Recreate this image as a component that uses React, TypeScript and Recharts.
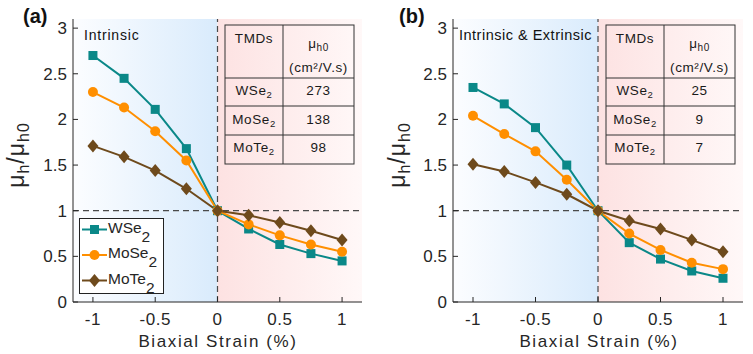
import React from 'react';
import { LineChart, Line, XAxis, YAxis, ReferenceArea, ReferenceLine } from 'recharts';

// ---- data ----
const strain = [-1, -0.75, -0.5, -0.25, 0, 0.25, 0.5, 0.75, 1];
const intrinsicWSe2 = [2.70, 2.45, 2.11, 1.68, 1.0, 0.80, 0.63, 0.53, 0.45];
const intrinsicMoSe2 = [2.30, 2.13, 1.87, 1.55, 1.0, 0.85, 0.73, 0.63, 0.55];
const intrinsicMoTe2 = [1.71, 1.59, 1.44, 1.24, 1.0, 0.95, 0.87, 0.78, 0.68];
const extrinsicWSe2 = [2.35, 2.17, 1.91, 1.50, 1.0, 0.65, 0.47, 0.34, 0.26];
const extrinsicMoSe2 = [2.04, 1.84, 1.65, 1.34, 1.0, 0.75, 0.57, 0.43, 0.36];
const extrinsicMoTe2 = [1.51, 1.43, 1.31, 1.18, 1.0, 0.89, 0.80, 0.68, 0.55];

const materialBase = ['WSe', 'MoSe', 'MoTe']; // each followed by subscript 2
const intrinsicMu0 = ['273', '138', '98'];
const extrinsicMu0 = ['25', '9', '7'];
const xTicks = [-1, -0.5, 0, 0.5, 1];
const yTicks = [0, 0.5, 1, 1.5, 2, 2.5, 3];
const xDomain: [number, number] = [-1.16, 1.16];
const yDomain: [number, number] = [0, 3.1];

const COLORS = ['#0a8888', '#ff8f00', '#6e4a1c'];
type Shape = 'square' | 'circle' | 'diamond';
const SHAPES: Shape[] = ['square', 'circle', 'diamond'];

const FONT = '"Liberation Sans", Arial, Helvetica, sans-serif';
const TXT = '#262626';

function markerEl(shape: Shape, color: string, cx: number, cy: number, key?: string) {
  if (shape === 'square')
    return <rect key={key} x={cx - 4.5} y={cy - 4.5} width={9} height={9} fill={color} />;
  if (shape === 'circle') return <circle key={key} cx={cx} cy={cy} r={5} fill={color} />;
  return (
    <polygon
      key={key}
      points={`${cx},${cy - 6.5} ${cx + 5.5},${cy} ${cx},${cy + 6.5} ${cx - 5.5},${cy}`}
      fill={color}
    />
  );
}

function makeDot(shape: Shape, color: string) {
  return (p: any) => {
    const k = `${shape}-${p.index}`;
    if (typeof p.cx !== 'number' || typeof p.cy !== 'number') return <g key={k} />;
    return markerEl(shape, color, p.cx, p.cy, k);
  };
}

type PanelProps = {
  id: string;
  width: number;
  marginLeft: number;
  marginRight: number;
  series: number[][];
  panelLabel: string;
  note: string;
  noteX: number;
  noteSize: number;
  noteSpacing: number;
  mu0: string[];
  tableLeft: number;
  yLabelX: number;
  xLabelX: number;
  showLegend: boolean;
};

function Panel(props: PanelProps) {
  const { id, width, marginLeft, marginRight, series, panelLabel, note, noteX, noteSize, noteSpacing, mu0, tableLeft, yLabelX, xLabelX, showLegend } = props;
  const rows = strain.map((x, i) => ({ x, s0: series[0][i], s1: series[1][i], s2: series[2][i] }));
  const tl = tableLeft;
  const tc = tl + 58;
  const tr = tl + 129;
  const rowBase = [95, 123.5, 152];

  return (
    <div style={{ position: 'relative', width, height: 354 }}>
      <LineChart
        width={width}
        height={354}
        data={rows}
        margin={{ top: 19, right: marginRight, bottom: 0, left: marginLeft - 60 }}
        style={{ fontFamily: FONT }}
      >
        <defs>
          <linearGradient id={`blue-${id}`} x1="0" y1="0" x2="1" y2="0">
            <stop offset="0" stopColor="#fcfdff" />
            <stop offset="1" stopColor="#d9ebfc" />
          </linearGradient>
          <linearGradient id={`pink-${id}`} x1="0" y1="0" x2="1" y2="0">
            <stop offset="0" stopColor="#fde2e2" />
            <stop offset="1" stopColor="#fff8f8" />
          </linearGradient>
        </defs>
        <XAxis
          dataKey="x"
          type="number"
          domain={xDomain}
          ticks={xTicks}
          height={52}
          stroke={TXT}
          tickSize={-5}
          tickMargin={16}
          tick={{ fontSize: 17, fill: TXT, fontFamily: FONT, letterSpacing: 0.5 }}
          tickFormatter={(v: number) => String(v)}
        />
        <XAxis
          xAxisId="top"
          orientation="top"
          dataKey="x"
          type="number"
          domain={xDomain}
          ticks={xTicks}
          height={0}
          stroke="#8a8a8a"
          tickSize={-4}
          tickFormatter={() => ''}
        />
        <YAxis
          type="number"
          domain={yDomain}
          ticks={yTicks}
          width={60}
          stroke={TXT}
          tickSize={-5}
          tickMargin={11}
          tick={{ fontSize: 17, fill: TXT, fontFamily: FONT }}
          tickFormatter={(v: number) => String(v)}
        />
        <YAxis
          yAxisId="right"
          orientation="right"
          type="number"
          domain={yDomain}
          ticks={yTicks}
          width={0}
          stroke="#8a8a8a"
          tickSize={-4}
          tickFormatter={() => ''}
        />
        <ReferenceArea x1={xDomain[0]} x2={0} y1={yDomain[0]} y2={yDomain[1]} fill={`url(#blue-${id})`} fillOpacity={1} stroke="none" />
        <ReferenceArea x1={0} x2={xDomain[1]} y1={yDomain[0]} y2={yDomain[1]} fill={`url(#pink-${id})`} fillOpacity={1} stroke="none" />
        <ReferenceLine x={0} stroke="#4a4a4a" strokeWidth={1.2} strokeDasharray="6 4" />
        <ReferenceLine y={1} stroke="#4a4a4a" strokeWidth={1.2} strokeDasharray="6 4" />
        {[0, 1, 2].map((k) => (
          <Line
            key={k}
            dataKey={`s${k}`}
            stroke={COLORS[k]}
            strokeWidth={2}
            dot={makeDot(SHAPES[k], COLORS[k])}
            activeDot={false}
            isAnimationActive={false}
          />
        ))}
      </LineChart>
      <svg
        width={width}
        height={354}
        style={{ position: 'absolute', left: 0, top: 0, pointerEvents: 'none', fontFamily: FONT }}
      >
        <text x={23} y={23} fontSize={20} fontWeight="bold" fill="#111">{panelLabel}</text>
        <text
          transform="rotate(-90)"
          x={-155}
          y={yLabelX}
          textAnchor="middle"
          fontSize={23}
          fill={TXT}
          letterSpacing={1}
        >
          μ<tspan dy={5} fontSize={16}>h</tspan>
          <tspan dy={-5}>/μ</tspan>
          <tspan dy={5} fontSize={16}>h0</tspan>
        </text>
        <text x={xLabelX} y={347} textAnchor="middle" fontSize={17} fill={TXT} letterSpacing={1.6}>
          Biaxial Strain (%)
        </text>
        <text x={noteX} y={39.5} fontSize={noteSize} fill="#111" letterSpacing={noteSpacing}>{note}</text>
        {/* inset table */}
        <g stroke="#333" strokeWidth={1} fill="none">
          <rect x={tl} y={25} width={tr - tl} height={139} />
          <line x1={tc} y1={25} x2={tc} y2={164} />
          <line x1={tl} y1={78} x2={tr} y2={78} />
          <line x1={tl} y1={106} x2={tr} y2={106} />
          <line x1={tl} y1={135} x2={tr} y2={135} />
        </g>
        <g fontSize={13.5} fill="#1a1a1a" textAnchor="middle" letterSpacing={0.6}>
          <text x={(tl + tc) / 2} y={42.5}>TMDs</text>
          <text x={(tc + tr) / 2} y={48}>
            μ<tspan dy={2.5} fontSize={10}>h0</tspan>
          </text>
          <text x={(tc + tr) / 2} y={72}>(cm²/V.s)</text>
          {materialBase.map((m, i) => (
            <g key={m}>
              <text x={(tl + tc) / 2} y={rowBase[i]}>
                {m}
                <tspan dy={3} fontSize={9.5}>2</tspan>
              </text>
              <text x={(tc + tr) / 2} y={rowBase[i]}>{mu0[i]}</text>
            </g>
          ))}
        </g>
        {showLegend && (
          <g>
            <rect x={79.5} y={218.5} width={84} height={75} fill="#fff" stroke="#222" strokeWidth={1} />
            {materialBase.map((m, i) => {
              const cy = 229.5 + 25.5 * i;
              return (
                <g key={m}>
                  <line x1={82} y1={cy} x2={107} y2={cy} stroke={COLORS[i]} strokeWidth={2} />
                  {markerEl(SHAPES[i], COLORS[i], 94.5, cy)}
                  <text x={108} y={cy + 3} fontSize={15.5} fill={TXT}>
                    {m}
                    <tspan dy={9} fontSize={15.5}>2</tspan>
                  </text>
                </g>
              );
            })}
          </g>
        )}
      </svg>
    </div>
  );
}

export default function App() {
  return (
    <div style={{ position: 'absolute', left: 0, top: 0, width: 753, height: 354, background: '#fff', display: 'flex' }}>
      <Panel
        id="a"
        width={376}
        marginLeft={73}
        marginRight={14}
        series={[intrinsicWSe2, intrinsicMoSe2, intrinsicMoTe2]}
        panelLabel="(a)"
        note="Intrinsic"
        noteX={84}
        noteSize={14}
        noteSpacing={0.8}
        mu0={intrinsicMu0}
        tableLeft={225}
        yLabelX={24}
        xLabelX={218}
        showLegend={true}
      />
      <Panel
        id="b"
        width={377}
        marginLeft={77}
        marginRight={10}
        series={[extrinsicWSe2, extrinsicMoSe2, extrinsicMoTe2]}
        panelLabel="(b)"
        note="Intrinsic & Extrinsic"
        noteX={83}
        noteSize={14.5}
        noteSpacing={0.5}
        mu0={extrinsicMu0}
        tableLeft={230}
        yLabelX={29}
        xLabelX={223}
        showLegend={false}
      />
    </div>
  );
}
